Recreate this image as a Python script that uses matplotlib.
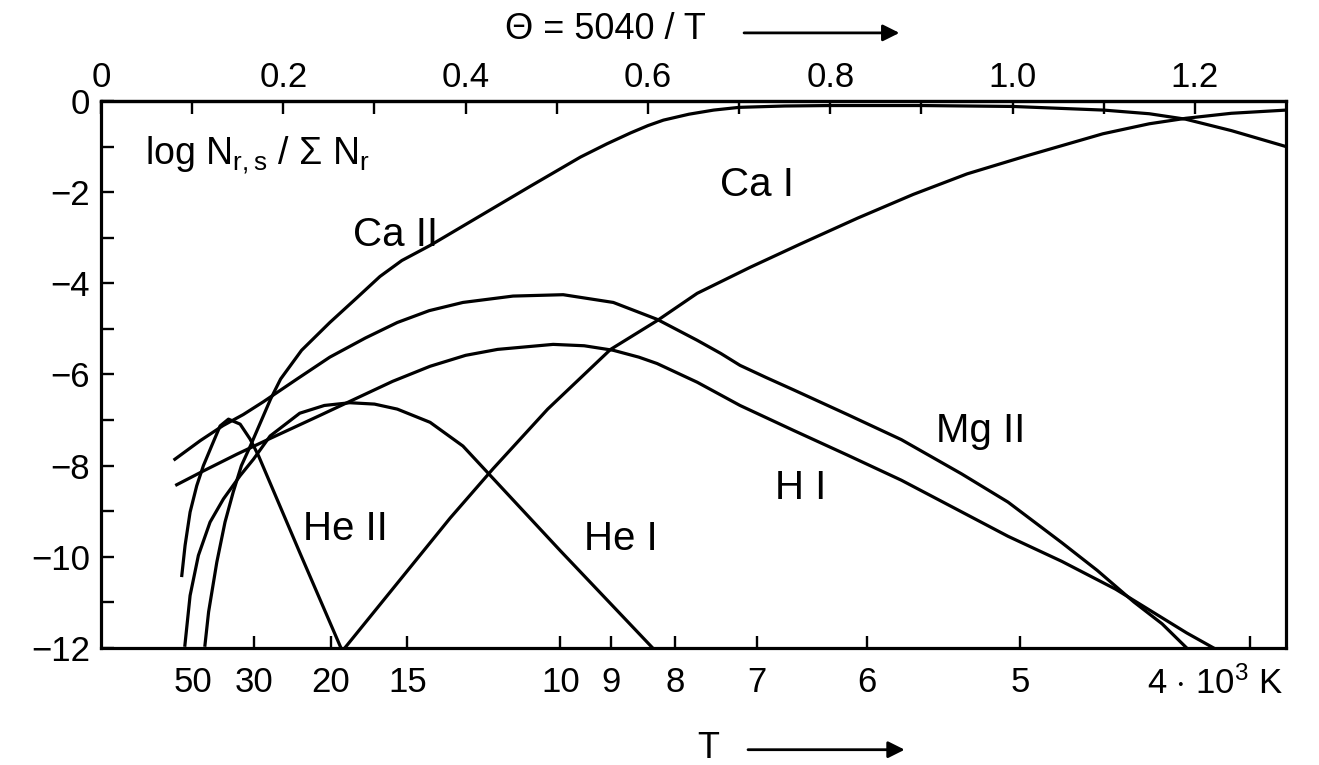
import numpy as np
import matplotlib.pyplot as plt

plt.rcParams['font.family'] = ['Liberation Sans', 'DejaVu Sans']
plt.rcParams['mathtext.fontset'] = 'custom'
plt.rcParams['mathtext.rm'] = 'Liberation Sans'
plt.rcParams['mathtext.it'] = 'Liberation Sans:italic'

# Θ = 5040/T on x, log N_r,s / sum N_r on y
ca2_theta = [0.114, 0.118, 0.127, 0.136, 0.145, 0.154, 0.164, 0.175, 0.186, 0.197,
             0.22, 0.251, 0.28, 0.306, 0.33, 0.361, 0.416, 0.471, 0.526, 0.555,
             0.581, 0.60, 0.617, 0.645, 0.672, 0.70, 0.75, 0.80, 0.90, 1.00,
             1.10, 1.15, 1.19, 1.24, 1.30]
ca2_log = [-11.94, -11.21, -10.12, -9.24, -8.58, -8.0, -7.56, -7.05, -6.54, -6.1,
           -5.47, -4.86, -4.33, -3.85, -3.5, -3.17, -2.52, -1.87, -1.23, -0.94,
           -0.70, -0.54, -0.42, -0.29, -0.20, -0.14, -0.11, -0.10, -0.10, -0.12,
           -0.20, -0.28, -0.40, -0.65, -1.0]

ca1_theta = [0.265, 0.383, 0.43, 0.49, 0.559, 0.61, 0.654, 0.712, 0.767, 0.83,
             0.891, 0.95, 1.016, 1.099, 1.15, 1.19, 1.24, 1.30]
ca1_log = [-12.06, -9.15, -8.07, -6.76, -5.45, -4.82, -4.22, -3.65, -3.14, -2.57,
           -2.05, -1.6, -1.2, -0.72, -0.5, -0.38, -0.27, -0.2]

mg2_theta = [0.081, 0.109, 0.134, 0.156, 0.178, 0.215, 0.251, 0.290, 0.325, 0.36,
             0.397, 0.452, 0.507, 0.562, 0.61, 0.654, 0.68, 0.701, 0.73, 0.760,
             0.819, 0.878, 0.944, 0.995, 1.054, 1.093, 1.133, 1.164, 1.191]
mg2_log = [-7.86, -7.45, -7.12, -6.88, -6.6, -6.1, -5.62, -5.2, -4.86, -4.6,
           -4.42, -4.28, -4.25, -4.42, -4.79, -5.25, -5.54, -5.8, -6.07, -6.34,
           -6.88, -7.43, -8.18, -8.80, -9.69, -10.30, -10.99, -11.47, -12.0]

h1_theta = [0.083, 0.112, 0.149, 0.186, 0.24, 0.273, 0.32, 0.361, 0.40, 0.435,
            0.496, 0.53, 0.562, 0.59, 0.61, 0.654, 0.701, 0.760, 0.819, 0.878,
            0.937, 0.995, 1.054, 1.113, 1.152, 1.191, 1.225]
h1_log = [-8.42, -8.12, -7.75, -7.4, -6.9, -6.59, -6.15, -5.82, -5.58, -5.45,
          -5.34, -5.37, -5.47, -5.62, -5.76, -6.17, -6.68, -7.23, -7.77, -8.32,
          -8.94, -9.55, -10.10, -10.71, -11.19, -11.67, -12.05]

he1_theta = [0.092, 0.0977, 0.1068, 0.1196, 0.1343, 0.1526, 0.1672, 0.1855, 0.218,
             0.245, 0.273, 0.30, 0.325, 0.361, 0.397, 0.504, 0.608]
he1_log = [-11.94, -10.85, -9.97, -9.24, -8.73, -8.22, -7.86, -7.35, -6.85,
           -6.68, -6.62, -6.65, -6.76, -7.05, -7.57, -9.87, -12.06]

he2_theta = [0.0886, 0.0922, 0.0977, 0.105, 0.1123, 0.1215, 0.1306, 0.1398,
             0.1526, 0.1636, 0.1727, 0.2185, 0.2645]
he2_log = [-10.41, -9.75, -9.02, -8.44, -8.0, -7.56, -7.13, -6.98,
           -7.09, -7.42, -7.78, -9.93, -12.06]

curves = [(ca2_theta, ca2_log), (ca1_theta, ca1_log), (mg2_theta, mg2_log),
          (h1_theta, h1_log), (he1_theta, he1_log), (he2_theta, he2_log)]

# curve labels: text, theta, log
labels = [('Ca II', 0.323, -2.93), ('Ca I', 0.72, -1.84), ('Mg II', 0.965, -7.24),
          ('H I', 0.767, -8.5), ('He I', 0.57, -9.6), ('He II', 0.268, -9.4)]

# bottom axis: temperature in 10^3 K
T_k = [50, 30, 20, 15, 10, 9, 8, 7, 6, 5, 4]
T_labels = ['50', '30', '20', '15', '10', '9', '8', '7', '6', '5', '']
theta_T = [5.04 / t for t in T_k]

theta_major = [0, 0.2, 0.4, 0.6, 0.8, 1.0, 1.2]
theta_major_labels = ['0', '0.2', '0.4', '0.6', '0.8', '1.0', '1.2']
theta_minor = [0.1, 0.3, 0.5, 0.7, 0.9, 1.1]

y_ticks = list(range(-12, 1))
y_labels = [('\u2212' + str(-v) if v < 0 else '0') if v % 2 == 0 else '' for v in y_ticks]

fig = plt.figure(figsize=(13.19, 7.65), dpi=100)
ax = fig.add_axes([0.0766, 0.153, 0.8984, 0.715])

for th, lg in curves:
    ax.plot(th, lg, color='black', lw=2.3, solid_joinstyle='round')

for txt, x, y in labels:
    ax.text(x, y, txt, fontsize=29, ha='center', va='center')

ax.text(0.048, -1.18,
        r'log N$_{\mathregular{r,s}}$ / $\mathregular{\Sigma}$ N$_{\mathregular{r}}$',
        fontsize=27, ha='left', va='center')

ax.set_xlim(0, 1.3)
ax.set_ylim(-12, 0)

for s in ax.spines.values():
    s.set_linewidth(2.3)

ax.set_xticks(theta_T)
ax.set_xticklabels(T_labels)
ax.xaxis.get_major_ticks()[0].tick1line.set_visible(False)
ax.tick_params(axis='x', direction='in', length=9, width=1.7, labelsize=25, pad=13)

ax.set_yticks(y_ticks)
ax.set_yticklabels(y_labels)
ax.tick_params(axis='y', direction='in', length=9, width=1.7, labelsize=25, pad=8)

ax.annotate(r'4 $\cdot$ 10$^{\mathregular{3}}$ K', xy=(theta_T[-1], 0),
            xycoords=('data', 'axes fraction'), xytext=(-34, -18),
            textcoords='offset pixels', ha='center', va='top', fontsize=25)

top = ax.secondary_xaxis('top')
top.set_xticks(theta_major)
top.set_xticklabels(theta_major_labels)
top.set_xticks(theta_minor, minor=True)
top.tick_params(which='both', direction='in', length=9, width=1.7, labelsize=25, pad=5)
top.spines['top'].set_linewidth(2.3)

fig.text(0.459, 0.961, '\u0398 = 5040 / T', fontsize=26, ha='center', va='center')
fig.text(0.537, 0.022, 'T', fontsize=26, ha='center', va='center')
fig.add_artist(plt.matplotlib.patches.FancyArrowPatch(
    (0.562, 0.957), (0.684, 0.957), transform=fig.transFigure,
    arrowstyle='-|>', mutation_scale=25, lw=2, color='black'))
fig.add_artist(plt.matplotlib.patches.FancyArrowPatch(
    (0.565, 0.020), (0.688, 0.020), transform=fig.transFigure,
    arrowstyle='-|>', mutation_scale=25, lw=2, color='black'))

fig.savefig('out.png', dpi=100)
